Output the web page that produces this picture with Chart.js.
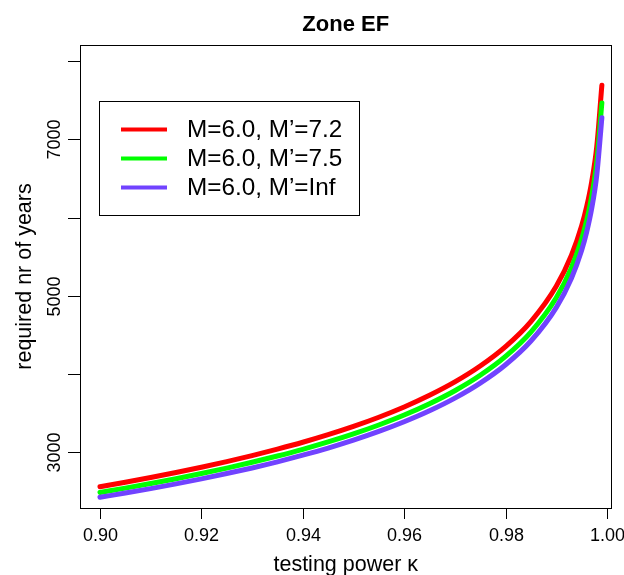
<!DOCTYPE html>
<html><head><meta charset="utf-8">
<script src="https://cdn.jsdelivr.net/npm/chart.js@4/dist/chart.umd.min.js"></script>
<style>html,body{margin:0;padding:0;background:#fff;} #wrap{width:624px;height:575px;}</style>
</head><body><div id="wrap"><canvas id="c" width="624" height="575"></canvas></div>
<script>
const chartTitle = "Zone EF";
const xTitle = "testing power \u03BA";
const yTitle = "required nr of years";
const seriesLabels = ["M=6.0, M\u2019=7.2", "M=6.0, M\u2019=7.5", "M=6.0, M\u2019=Inf"];
const seriesColors = ["#FF0000", "#00FF00", "#7143FF"];
const kappa = [0.900,0.905,0.910,0.915,0.920,0.925,0.930,0.935,0.940,0.945,0.950,0.955,0.960,0.965,0.970,0.975,0.980,0.985,0.990,0.993,0.995,0.996,0.997,0.998,0.999];
const yearsM72 = [2560,2618,2678,2741,2809,2880,2957,3040,3128,3225,3331,3448,3579,3728,3899,4102,4350,4670,5121,5518,5892,6140,6460,6911,7690];
const yearsM75 = [2487,2542,2601,2662,2728,2798,2872,2952,3038,3132,3235,3349,3476,3621,3787,3984,4225,4536,4974,5359,5722,5963,6274,6712,7465];
const yearsInf = [2425,2479,2536,2596,2660,2728,2800,2878,2963,3054,3155,3266,3390,3530,3692,3884,4119,4422,4849,5225,5579,5814,6117,6544,7276];
const xTicks = [0.90,0.92,0.94,0.96,0.98,1.00];
const xTickLabels = ["0.90","0.92","0.94","0.96","0.98","1.00"];
const yTicks = [3000,4000,5000,6000,7000,8000];
const yTickLabels = ["3000","","5000","","7000",""];

const series = [yearsM72, yearsM75, yearsInf];
const FONT = "'Liberation Sans', Arial, Helvetica, sans-serif";

const rPlot = {
  id: 'rPlot',
  afterDraw(chart) {
    const ctx = chart.ctx;
    const xs = chart.scales.x, ys = chart.scales.y;
    const a = chart.chartArea;
    ctx.save();
    ctx.strokeStyle = '#000';
    ctx.lineWidth = 1;
    // box
    ctx.strokeRect(Math.round(a.left) + 0.5, Math.round(a.top) + 0.5,
      Math.round(a.right - a.left) - 1, Math.round(a.bottom - a.top));
    ctx.fillStyle = '#000';
    // x ticks
    ctx.font = '18px ' + FONT;
    ctx.textAlign = 'center';
    ctx.textBaseline = 'alphabetic';
    xTicks.forEach((v, i) => {
      const px = Math.round(xs.getPixelForValue(v)) + 0.5;
      ctx.beginPath();
      ctx.moveTo(px, a.bottom + 0.5);
      ctx.lineTo(px, a.bottom + 11);
      ctx.stroke();
      ctx.fillText(xTickLabels[i], px, 541);
    });
    // y ticks
    yTicks.forEach((v, i) => {
      const py = Math.round(ys.getPixelForValue(v)) + 0.5;
      ctx.beginPath();
      ctx.moveTo(a.left, py);
      ctx.lineTo(a.left - 12, py);
      ctx.stroke();
      if (yTickLabels[i]) {
        ctx.save();
        ctx.translate(60, py);
        ctx.rotate(-Math.PI / 2);
        ctx.textAlign = 'center';
        ctx.fillText(yTickLabels[i], 0, 0);
        ctx.restore();
      }
    });
    // axis titles
    ctx.font = '21.5px ' + FONT;
    ctx.textAlign = 'center';
    ctx.fillText(xTitle, (a.left + a.right) / 2, 571);
    ctx.save();
    ctx.translate(31, (a.top + a.bottom) / 2);
    ctx.rotate(-Math.PI / 2);
    ctx.fillText(yTitle, 0, 0);
    ctx.restore();
    // title
    ctx.font = 'bold 22px ' + FONT;
    ctx.fillText(chartTitle, (a.left + a.right) / 2, 31);
    // legend
    const lx = 99.5, ly = 101.5, lw = 260, lh = 114;
    ctx.fillStyle = '#fff';
    ctx.fillRect(lx, ly, lw, lh);
    ctx.strokeStyle = '#000';
    ctx.lineWidth = 1;
    ctx.strokeRect(lx, ly, lw, lh);
    ctx.font = '24.3px ' + FONT;
    ctx.textAlign = 'left';
    ctx.textBaseline = 'middle';
    seriesLabels.forEach((lab, i) => {
      const yy = 129.5 + i * 29;
      ctx.strokeStyle = seriesColors[i];
      ctx.lineWidth = 4;
      ctx.lineCap = 'butt';
      ctx.beginPath();
      ctx.moveTo(121, yy);
      ctx.lineTo(167, yy);
      ctx.stroke();
      ctx.fillStyle = '#000';
      ctx.fillText(lab, 187, yy + 1);
    });
    ctx.restore();
  }
};

new Chart(document.getElementById('c'), {
  type: 'scatter',
  data: {
    datasets: series.map((s, i) => ({
      label: seriesLabels[i],
      data: kappa.map((k, j) => ({ x: k, y: s[j] })),
      showLine: true,
      borderColor: seriesColors[i],
      backgroundColor: seriesColors[i],
      borderWidth: 5,
      borderCapStyle: 'round',
      pointRadius: 0,
      cubicInterpolationMode: 'monotone',
      order: 3 - i
    }))
  },
  options: {
    responsive: false,
    animation: false,
    devicePixelRatio: 1,
    layout: { padding: { left: 80, right: 12.5, top: 45, bottom: 67 } },
    plugins: { legend: { display: false }, tooltip: { enabled: false }, title: { display: false } },
    scales: {
      x: { type: 'linear', display: false, min: 0.89606, max: 1.0009 },
      y: { type: 'linear', display: false, min: 2288, max: 8205 }
    }
  },
  plugins: [rPlot]
});
</script>
</body></html>
